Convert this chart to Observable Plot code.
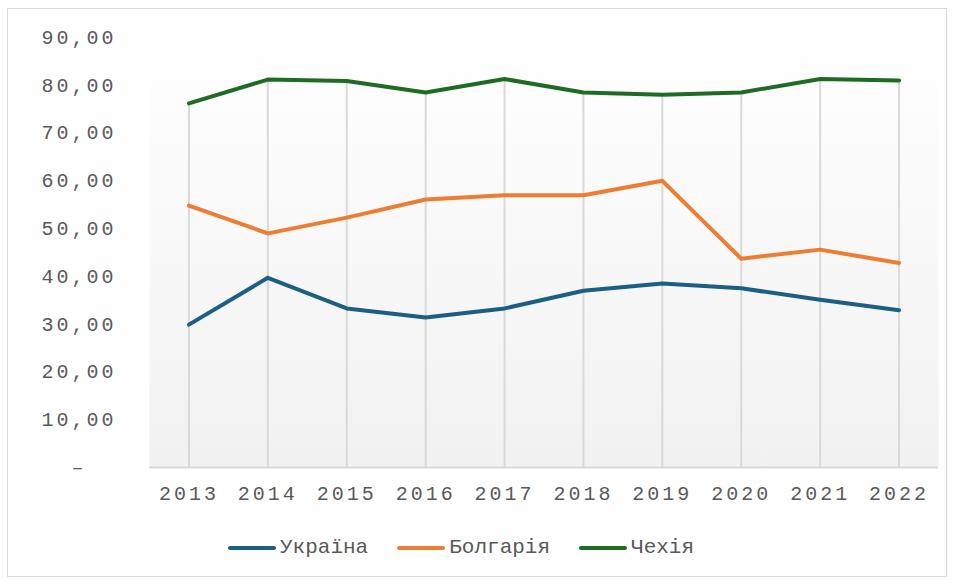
<!DOCTYPE html>
<html>
<head>
<meta charset="utf-8">
<script src="https://cdn.jsdelivr.net/npm/d3@7"></script>
<script src="https://cdn.jsdelivr.net/npm/@observablehq/plot@0.6"></script>
<style>
  body { margin: 0; background: #fff; width: 956px; height: 580px; position: relative; overflow: hidden; }
  #frame { position: absolute; left: 7px; top: 8px; width: 940px; height: 569px; border: 1px solid #d9d9d9; box-sizing: border-box; }
  #chart { position: absolute; left: 0; top: 0; }
  #legend { position: absolute; left: 228px; top: 536px; display: flex; align-items: center; font-family: "Liberation Mono", "Courier New", monospace; font-size: 21px; color: #595959; }
  .item { display: flex; align-items: center; margin-right: 29px; }
  .sw { width: 48px; height: 4px; border-radius: 2px; margin-right: 4px; }
</style>
</head>
<body>
<div id="frame"></div>
<div id="chart"></div>
<div id="legend"></div>
<script>
const years = ["2013","2014","2015","2016","2017","2018","2019","2020","2021","2022"];
const seriesNames = ["Україна", "Болгарія", "Чехія"];
const ukraine  = [29.9, 39.7, 33.3, 31.4, 33.3, 37.0, 38.5, 37.5, 35.1, 32.9];
const bulgaria = [54.8, 49.0, 52.3, 56.1, 57.0, 57.0, 60.0, 43.7, 45.6, 42.8];
const czechia  = [76.2, 81.2, 80.9, 78.5, 81.3, 78.5, 78.0, 78.5, 81.3, 81.0];
const yTicks = [0, 10, 20, 30, 40, 50, 60, 70, 80, 90];
const colors = ["#1b5f83", "#ed7d31", "#1e6b24"];

const seriesValues = [ukraine, bulgaria, czechia];
const data = [];
seriesNames.forEach((s, i) => years.forEach((y, j) => data.push({series: s, year: y, value: seriesValues[i][j]})));
const drops = years.map((y, j) => ({year: y, top: d3.max(seriesValues, v => v[j])}));

const fmt = d => d === 0 ? "–\u00a0\u00a0" : d.toFixed(2).replace(".", ",");

const plot = Plot.plot({
  width: 956,
  height: 500,
  marginLeft: 149,
  marginRight: 18,
  marginTop: 37,
  marginBottom: 33,
  style: {fontFamily: "'Liberation Mono', monospace", fontSize: "20px", color: "#595959", background: "transparent", overflow: "visible"},
  x: {type: "point", domain: years, padding: 0.5, round: false, label: null},
  y: {domain: [0, 90], ticks: yTicks, label: null},
  color: {domain: seriesNames, range: colors},
  marks: [
    Plot.frame({fill: "url(#bggrad)", stroke: null}),
    Plot.ruleX(drops, {x: "year", y1: 0, y2: "top", stroke: "#d9d9d9", strokeWidth: 2}),
    Plot.ruleY([0], {stroke: "#d9d9d9", strokeWidth: 2}),
    Plot.axisY(yTicks, {tickSize: 0, tickPadding: 33, tickFormat: fmt, fill: "#595959", fontSize: 20}),
    Plot.axisX(years, {tickSize: 0, tickPadding: 18, fill: "#595959", fontSize: 20}),
    Plot.line(data, {x: "year", y: "value", z: "series", stroke: "series", strokeWidth: 4, strokeLinecap: "round", strokeLinejoin: "round"})
  ]
});

const ns = "http://www.w3.org/2000/svg";
const defs = document.createElementNS(ns, "defs");
defs.innerHTML = '<linearGradient id="bggrad" x1="0" y1="0" x2="0" y2="1"><stop offset="0" stop-color="#ffffff"/><stop offset="1" stop-color="#f1f1f1"/></linearGradient>';
plot.insertBefore(defs, plot.firstChild);
plot.querySelectorAll("text").forEach(t => t.setAttribute("letter-spacing", "3"));
document.getElementById("chart").appendChild(plot);

const legend = document.getElementById("legend");
seriesNames.forEach((s, i) => {
  const it = document.createElement("div");
  it.className = "item";
  const sw = document.createElement("div");
  sw.className = "sw";
  sw.style.background = colors[i];
  const tx = document.createElement("span");
  tx.textContent = s;
  it.appendChild(sw);
  it.appendChild(tx);
  legend.appendChild(it);
});
</script>
</body>
</html>
